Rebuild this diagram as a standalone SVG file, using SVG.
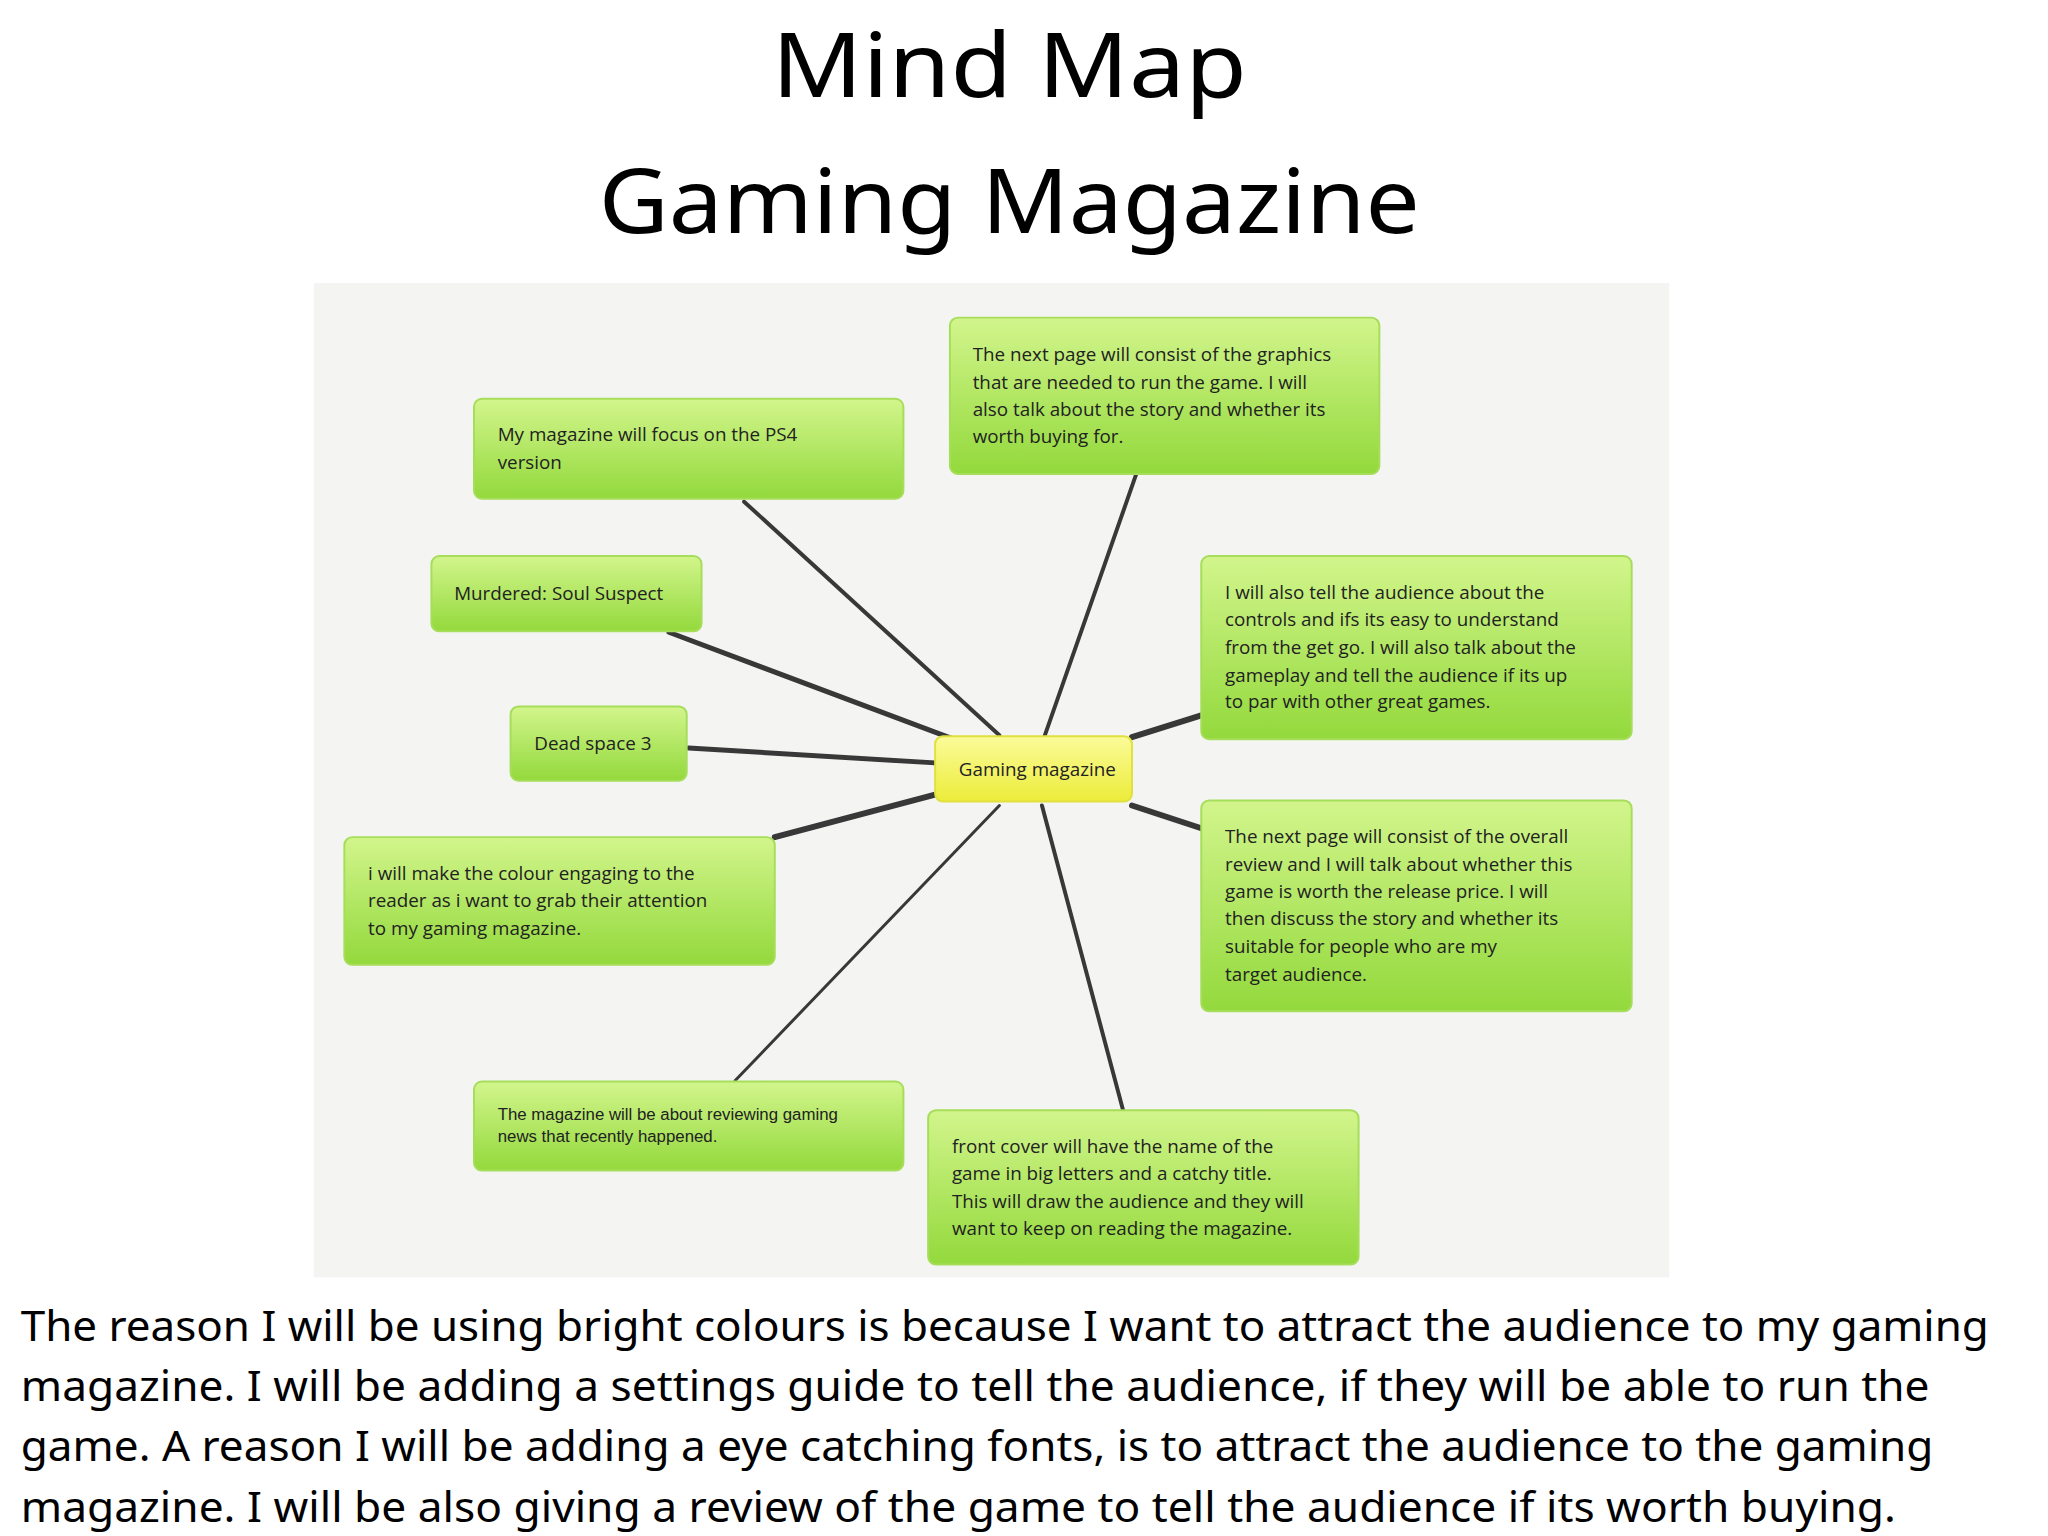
<svg xmlns="http://www.w3.org/2000/svg" width="2048" height="1536" viewBox="0 0 2048 1536">
<defs>
<linearGradient id="g" x1="0" y1="0" x2="0" y2="1"><stop offset="0" stop-color="#d2f58c"/><stop offset="1" stop-color="#93d93c"/></linearGradient>
<linearGradient id="y" x1="0" y1="0" x2="0" y2="1"><stop offset="0" stop-color="#fbfb9a"/><stop offset="1" stop-color="#ecec3a"/></linearGradient>
</defs>
<style>
.n{fill:url(#g);stroke:#a6dd5a;stroke-width:2}
.t{font-family:"Open Sans","Liberation Sans",sans-serif;font-size:19px;fill:#222}
.s{font-family:"Liberation Sans",sans-serif;font-size:17px;fill:#222}
.h{font-family:"Noto Sans","Open Sans",sans-serif;font-size:90px;fill:#000;text-anchor:middle}
.b{font-family:"Noto Sans","Open Sans",sans-serif;font-size:42px;fill:#000}
.c{stroke:#383838;stroke-linecap:round}
</style>
<rect width="2048" height="1536" fill="#fff"/>
<g transform="scale(0.9895)">
<text class="h" x="1020" y="98" textLength="480" lengthAdjust="spacingAndGlyphs">Mind Map</text>
<text class="h" x="1020" y="235" textLength="830" lengthAdjust="spacingAndGlyphs">Gaming Magazine</text>
<rect x="317" y="286" width="1370" height="1005" fill="#f4f5f3"/>
<g id="connectors">
<line class="c" x1="752" y1="507" x2="1010" y2="743" stroke-width="4"/>
<line class="c" x1="1148" y1="480" x2="1056" y2="743" stroke-width="4"/>
<line class="c" x1="676" y1="639" x2="961" y2="746" stroke-width="5"/>
<line class="c" x1="1214" y1="723" x2="1144" y2="745" stroke-width="6"/>
<line class="c" x1="696" y1="756" x2="945" y2="771" stroke-width="5"/>
<line class="c" x1="783" y1="846" x2="945" y2="803" stroke-width="6"/>
<line class="c" x1="1214" y1="837" x2="1144" y2="814" stroke-width="6"/>
<line class="c" x1="743" y1="1092" x2="1010" y2="814" stroke-width="3"/>
<line class="c" x1="1135" y1="1122" x2="1053" y2="814" stroke-width="4"/>
</g>
<g id="center"><rect x="945" y="744" width="199" height="66" rx="8" fill="url(#y)" stroke="#e0e040" stroke-width="2"/><text class="t" x="969" y="784" font-size="18">Gaming magazine</text></g>
<g id="ps4"><rect class="n" x="479" y="403" width="434" height="101" rx="8"/><text class="t" x="503" y="446">My magazine will focus on the PS4</text><text class="t" x="503" y="474">version</text></g>
<g id="graphics"><rect class="n" x="960" y="321" width="434" height="158" rx="8"/><text class="t"><tspan x="983" y="365">The next page will consist of the graphics</tspan><tspan x="983" y="393">that are needed to run the game. I will</tspan><tspan x="983" y="420">also talk about the story and whether its</tspan><tspan x="983" y="448">worth buying for.</tspan></text></g>
<g id="murdered"><rect class="n" x="436" y="562" width="273" height="76" rx="8"/><text class="t" x="459" y="606">Murdered: Soul Suspect</text></g>
<g id="controls"><rect class="n" x="1214" y="562" width="435" height="185" rx="8"/><text class="t"><tspan x="1238" y="605">I will also tell the audience about the</tspan><tspan x="1238" y="633">controls and ifs its easy to understand</tspan><tspan x="1238" y="661">from the get go. I will also talk about the</tspan><tspan x="1238" y="689">gameplay and tell the audience if its up</tspan><tspan x="1238" y="716">to par with other great games.</tspan></text></g>
<g id="dead"><rect class="n" x="516" y="714" width="178" height="75" rx="8"/><text class="t" x="540" y="758">Dead space 3</text></g>
<g id="colour"><rect class="n" x="348" y="846" width="435" height="129" rx="8"/><text class="t"><tspan x="372" y="889">i will make the colour engaging to the</tspan><tspan x="372" y="917">reader as i want to grab their attention</tspan><tspan x="372" y="945">to my gaming magazine.</tspan></text></g>
<g id="overall"><rect class="n" x="1214" y="809" width="435" height="213" rx="8"/><text class="t"><tspan x="1238" y="852">The next page will consist of the overall</tspan><tspan x="1238" y="880">review and I will talk about whether this</tspan><tspan x="1238" y="908">game is worth the release price. I will</tspan><tspan x="1238" y="935">then discuss the story and whether its</tspan><tspan x="1238" y="963">suitable for people who are my</tspan><tspan x="1238" y="991">target audience.</tspan></text></g>
<g id="news"><rect class="n" x="479" y="1093" width="434" height="90" rx="8"/><text class="s"><tspan x="503" y="1132">The magazine will be about reviewing gaming</tspan><tspan x="503" y="1154">news that recently happened.</tspan></text></g>
<g id="front"><rect class="n" x="938" y="1122" width="435" height="156" rx="8"/><text class="t"><tspan x="962" y="1165">front cover will have the name of the</tspan><tspan x="962" y="1193">game in big letters and a catchy title.</tspan><tspan x="962" y="1221">This will draw the audience and they will</tspan><tspan x="962" y="1248">want to keep on reading the magazine.</tspan></text></g>
<g id="caption">
<text class="b" x="21" y="1355" textLength="1989" lengthAdjust="spacingAndGlyphs">The reason I will be using bright colours is because I want to attract the audience to my gaming</text>
<text class="b" x="21" y="1416" textLength="1929" lengthAdjust="spacingAndGlyphs">magazine. I will be adding a settings guide to tell the audience, if they will be able to run the</text>
<text class="b" x="21" y="1477" textLength="1933" lengthAdjust="spacingAndGlyphs">game. A reason I will be adding a eye catching fonts, is to attract the audience to the gaming</text>
<text class="b" x="21" y="1538" textLength="1895" lengthAdjust="spacingAndGlyphs">magazine. I will be also giving a review of the game to tell the audience if its worth buying.</text>
</g>
</g>
</svg>
